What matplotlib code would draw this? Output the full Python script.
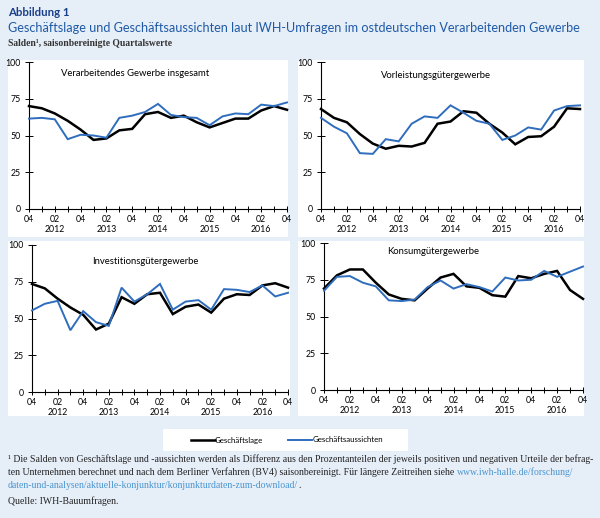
import matplotlib
matplotlib.use("Agg")
import matplotlib.pyplot as plt
from matplotlib.patches import Rectangle
from matplotlib.lines import Line2D

# ---------------- data ----------------
quarters = ["2011Q4", "2012Q1", "2012Q2", "2012Q3", "2012Q4", "2013Q1", "2013Q2",
            "2013Q3", "2013Q4", "2014Q1", "2014Q2", "2014Q3", "2014Q4", "2015Q1",
            "2015Q2", "2015Q3", "2015Q4", "2016Q1", "2016Q2", "2016Q3", "2016Q4"]

panel_titles = ["Verarbeitendes Gewerbe insgesamt", "Vorleistungsgütergewerbe",
                "Investitionsgütergewerbe", "Konsumgütergewerbe"]

lage_gesamt = [70, 68.5, 65, 60, 54, 47, 48, 53.5, 54.5, 64.5, 66, 62, 63.5, 59,
               55.5, 58.5, 61.5, 61.5, 67, 70, 67.5]
aussicht_gesamt = [61.5, 62, 61, 47.5, 50.5, 50, 48.5, 62, 63.5, 66, 71.5, 64, 62.5,
                   62, 57, 63, 65, 64.5, 71, 70, 72.5]

lage_vorl = [68, 62, 59, 51, 44.5, 41, 43, 42.5, 45, 58, 59.5, 66.5, 65.5, 58, 52,
             44, 49, 49.5, 56, 68.5, 68]
aussicht_vorl = [62, 56, 51.5, 38, 37.5, 47.5, 46, 58, 63, 62, 70.5, 65.5, 60, 58,
                 47, 50, 55.5, 54, 67, 70, 70.5]

lage_inv = [73.5, 70.5, 63.5, 57.5, 52.5, 42.5, 46.5, 64.5, 60, 66.5, 67.5, 53, 58,
            59.5, 54, 63.5, 66.5, 66, 72.5, 74, 71]
aussicht_inv = [55.5, 60, 62, 42, 55, 47.5, 45, 71, 61.5, 66.5, 73.5, 56, 61.5, 62.5,
                56, 70, 69.5, 68, 72.5, 65, 67.5]

lage_kons = [69, 78, 82, 82, 73, 65, 62, 61, 69, 76.5, 79, 70.5, 69.5, 64.5, 63.5,
             77.5, 76, 79, 81, 68, 62]
aussicht_kons = [67.5, 77, 77.5, 73, 70.5, 61, 60.5, 61.5, 70, 74.5, 69, 72, 70, 67,
                 76.5, 74.5, 75, 81, 77, 80.5, 84]

series_lage = [lage_gesamt, lage_vorl, lage_inv, lage_kons]
series_aussicht = [aussicht_gesamt, aussicht_vorl, aussicht_inv, aussicht_kons]
y_ticks = [0, 25, 50, 75, 100]
legend_labels = ["Geschäftslage", "Geschäftsaussichten"]

# ---------------- style ----------------
BG = "#e6eef8"
BLUE = "#2f6dbd"
TITLE_BLUE = "#1f5aa6"
NAVY = "#1a3f8a"
LINK = "#4a95cf"
SANS = ["Lato", "DejaVu Sans"]
SERIF = ["Liberation Serif", "DejaVu Serif"]

W, H = 600, 518
fig = plt.figure(figsize=(W / 100, H / 100), dpi=100)
fig.patch.set_facecolor(BG)


def fx(px):
    return px / W


def fy(py):
    return 1 - py / H


def white_box(x0, y0, x1, y1):
    r = Rectangle((fx(x0), fy(y1)), (x1 - x0) / W, (y1 - y0) / H,
                  transform=fig.transFigure, facecolor="white", edgecolor="none",
                  zorder=-5)
    fig.add_artist(r)


white_box(8, 60, 288, 237)
white_box(298, 60, 584, 237)
white_box(8, 241, 290, 416)
white_box(298, 241, 584, 416)
white_box(163, 429, 408, 451)

# axes geometry in pixels: (x_left, x_right, y_top(100), y_bottom(0))
geoms = [(29, 287, 62, 209), (321, 580, 62, 209), (32, 288, 245, 392), (324, 583, 243, 390)]
title_pos = [(2.5, 92), (4.6, 90.5), (4.7, 89), (4.9, 94)]


def xlabel(i):
    if i % 2:
        return ""
    q = quarters[i]
    if q.endswith("Q4"):
        return "04"
    return "02\n" + q[:4]


xs = list(range(len(quarters)))
for k, (x0, x1, yt, yb) in enumerate(geoms):
    ax = fig.add_axes([fx(x0), fy(yb), (x1 - x0) / W, (yb - yt) / H])
    ax.set_facecolor("none")
    ax.plot(xs, series_lage[k], color="black", lw=1.8, clip_on=False, zorder=3,
            solid_joinstyle="miter")
    ax.plot(xs, series_aussicht[k], color=BLUE, lw=1.4, clip_on=False, zorder=4,
            solid_joinstyle="miter")
    ax.set_xlim(0, len(quarters) - 1)
    ax.set_ylim(0, 100)
    for s in ("top", "right"):
        ax.spines[s].set_visible(False)
    for s in ("left", "bottom"):
        ax.spines[s].set_linewidth(0.8)
    ax.set_xticks(xs)
    ax.set_xticklabels([xlabel(i) for i in xs], fontsize=6.3, family=SANS,
                       linespacing=1.15)
    ax.set_yticks(y_ticks)
    ax.set_yticklabels([str(v) for v in y_ticks], fontsize=6.3, family=SANS)
    ax.tick_params(axis="x", direction="inout", length=4, width=0.7, pad=2)
    ax.tick_params(axis="y", direction="inout", length=6, width=0.7, pad=3)
    ax.text(title_pos[k][0], title_pos[k][1], panel_titles[k], fontsize=6.8,
            family=SANS, ha="left", va="center")

# ---------------- titles ----------------
fig.text(fx(8), fy(12), "Abbildung 1", fontsize=8.2, weight="bold", color=NAVY,
         family=SANS, va="center", ha="left")
t_title = fig.text(fx(8), fy(28),
                   "Geschäftslage und Geschäftsaussichten laut IWH-Umfragen im "
                   "ostdeutschen Verarbeitenden Gewerbe",
                   fontsize=10, color=TITLE_BLUE, family=SANS, va="center", ha="left")
fig.text(fx(8), fy(44), "Salden¹, saisonbereinigte Quartalswerte", fontsize=6.9,
         weight="bold", color="#333333", family=SERIF, va="center", ha="left")

# ---------------- legend ----------------
handles = [Line2D([], [], color="black", lw=1.8), Line2D([], [], color=BLUE, lw=1.4)]
fig.legend(handles, legend_labels, loc="center", bbox_to_anchor=(fx(287), fy(440)),
           ncol=2, frameon=False, prop={"family": SANS, "size": 5.7},
           handlelength=3.0, handletextpad=0.05, columnspacing=3.2)

# ---------------- footnote ----------------
fs = 6.8
l1 = fig.text(fx(8), fy(462),
              "¹ Die Salden von Geschäftslage und -aussichten werden als Differenz aus "
              "den Prozentanteilen der jeweils positiven und negativen Urteile der befrag-",
              fontsize=fs, family=SERIF, color="#222222", va="baseline", ha="left")
l2 = fig.text(fx(8), fy(475),
              "ten Unternehmen berechnet und nach dem Berliner Verfahren (BV4) "
              "saisonbereinigt. Für längere Zeitreihen siehe ",
              fontsize=fs, family=SERIF, color="#222222", va="baseline", ha="left")
l3 = fig.text(fx(8), fy(488),
              "daten-und-analysen/aktuelle-konjunktur/konjunkturdaten-zum-download/",
              fontsize=fs, family=SERIF, color=LINK, va="baseline", ha="left")
l4 = fig.text(fx(8), fy(504), "Quelle: IWH-Bauumfragen.", fontsize=fs, family=SERIF,
              color="#222222", va="baseline", ha="left")

# fit widths to the reference
fig.canvas.draw()
r = fig.canvas.get_renderer()
wt = t_title.get_window_extent(r).width
t_title.set_fontsize(10 * 574 / wt)
w1 = l1.get_window_extent(r).width
nfs = fs * 586 / w1
for t in (l1, l2, l3, l4):
    t.set_fontsize(nfs)
fig.canvas.draw()
b2 = l2.get_window_extent(r)
b3 = l3.get_window_extent(r)
fig.text(b2.x1 / W, fy(475), "www.iwh-halle.de/forschung/", fontsize=nfs,
         family=SERIF, color=LINK, va="baseline", ha="left")
fig.text((b3.x1 + 0.5) / W, fy(488), ".", fontsize=nfs, family=SERIF, color="#222222",
         va="baseline", ha="left")

fig.savefig("out.png", dpi=100, facecolor=BG)
